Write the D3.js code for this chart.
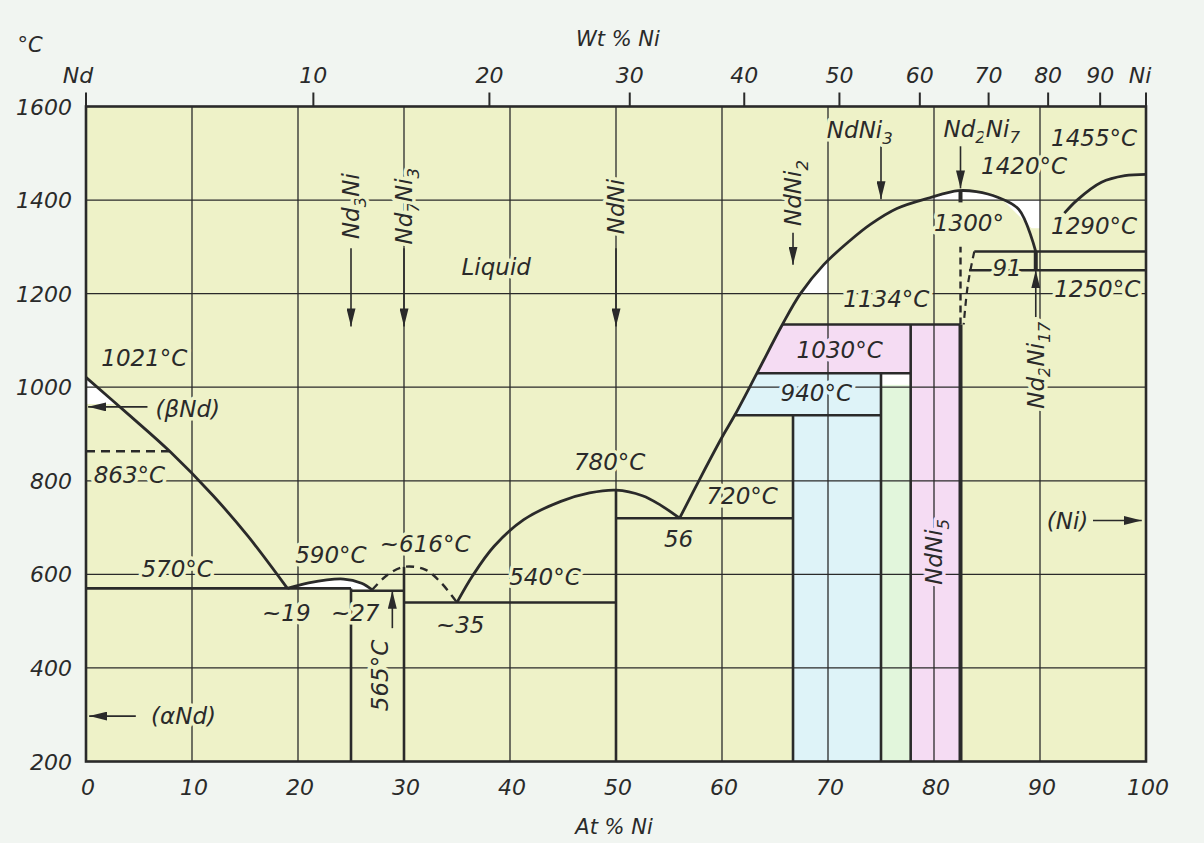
<!DOCTYPE html>
<html>
<head>
<meta charset="utf-8">
<script src="https://cdn.jsdelivr.net/npm/d3@7"></script>
<style>
  html, body { margin: 0; padding: 0; background: #f1f5f1; }
  svg { display: block; }
  text { font-family: "DejaVu Sans", sans-serif; font-style: italic; fill: #2a2a2a; }
</style>
</head>
<body>
<svg id="chart" width="1204" height="843"></svg>
<script>
// ---------------- DATA (at.% Ni, °C) ----------------
const atTicks = [0, 10, 20, 30, 40, 50, 60, 70, 80, 90, 100];
const tempTicks = [200, 400, 600, 800, 1000, 1200, 1400, 1600];
const wtTicks = [10, 20, 30, 40, 50, 60, 70, 80, 90];
const massNd = 144.24, massNi = 58.69;

// liquidus curves
const liqNd     = [[0,1021],[4,942],[7.9,863],[12,768],[15.3,681],[19,570]];
const liqNd3Ni  = [[19,570],[21,582],[24.3,590],[26,581],[27,567]];
const liqNd7Ni3 = [[27,567],[28.5,600],[30,616],[32,610],[33.5,582],[35,540]];   // dashed
const liqNdNi   = [[35,540],[36.5,598],[38.5,660],[41.3,717],[44.8,756],[47.5,774],[50,780],[52.5,768],[54.2,748],[56,720]];
const liqNdNi5  = [[56,720],[58,808],[60,893],[61.2,940],[63.3,1030],[65.7,1134],[67.4,1200],[69.6,1262],[72,1312],[74,1348],[76.5,1382],[79.6,1405],[82.3,1420],[84,1418],[86,1406],[88,1380],[89.6,1290]];
const liqNi     = [[92.3,1372],[93.5,1400],[95.8,1438],[98,1452],[100,1455]];
const dashed1300 = [[83.8,1290],[83.2,1220],[82.8,1134]];

// invariant (horizontal) lines
const isoTemp = [570, 565, 540, 720, 940, 1030, 1134, 1290, 1250];
const isoFrom = [0, 25, 30, 50, 61.2, 63.3, 65.7, 83.8, 83.3];
const isoTo   = [25, 30, 50, 66.7, 75, 77.8, 82.5, 100, 100];
const beta863 = [[0,863],[7.9,863]];

// compound (vertical) lines
const compX    = [25, 30, 50, 66.7, 75, 77.8, 82.5, 82.5, 89.6];
const compLow  = [200, 200, 200, 200, 200, 200, 200, 1395, 1250];
const compHigh = [570, 616, 780, 940, 1030, 1134, 1134, 1420, 1290];
const compHeavy = [false, false, false, false, false, false, true, true, true];
const dashedNdNi5 = [[82.5,1134],[82.5,1300]];

// coloured / white regions
const pinkRegion  = [[63.3,1030],[65.7,1134],[82.5,1134],[82.5,200],[77.8,200],[77.8,1030]];
const blueRegion  = [[61.2,940],[63.3,1030],[75,1030],[75,200],[66.7,200],[66.7,940]];
const greenRegion = [[75,200],[77.8,200],[77.8,1005],[75,1005]];
const whiteRegions = [
  [[0,1021],[2.9,964],[0,964]],
  [[19,570],[21,582],[24.3,590],[26,581],[27,567],[25,568]],
  [[67.4,1200],[69.6,1262],[70,1268],[70,1200]],
  [[86.5,1400],[89.2,1340],[90,1340],[90,1400]],
  [[75,1005],[77.8,1005],[77.8,1030],[75,1030]]
];
const whitePeak = [[79.5,1400],[79.6,1405],[82.3,1420],[84,1418],[86,1406],[86.5,1400]];

// arrows [fromAt, fromT, toAt, toT]
const arrows = [
  [5.8,958,0.2,958], [4.7,297,0.3,297], [95,715,99.6,715], [28.9,485,28.9,565],
  [25,1297,25,1130], [30,1297,30,1130], [50,1297,50,1130], [66.7,1330,66.7,1262],
  [75,1520,75,1402], [82.5,1515,82.5,1425], [89.6,1150,89.6,1250]
];

// labels [text, at%, °C]
const labels = [
  ["1021°C",5.5,1064], ["(βNd)",9.6,954], ["863°C",4.1,814], ["570°C",8.6,611],
  ["590°C",23.1,643], ["~616°C",32,665], ["~19",18.9,519], ["~27",25.4,518],
  ["~35",35.3,493], ["540°C",43.3,595], ["780°C",49.4,841], ["56",55.9,676],
  ["720°C",61.9,769], ["1030°C",71.1,1081], ["940°C",68.9,988], ["1134°C",75.5,1190],
  ["1300°",83.3,1351], ["1420°C",88.5,1474], ["1455°C",95.1,1533], ["1290°C",95.1,1345],
  ["1250°C",95.4,1210], ["91",86.9,1256], ["(Ni)",92.6,715], ["(αNd)",9.2,297],
  ["Liquid",38.7,1257], ["NdNi_{3}",73,1551], ["Nd_{2}Ni_{7}",84.5,1553]
];
const rotLabels = [
  ["Nd_{3}Ni",25,1387], ["Nd_{7}Ni_{3}",30,1387], ["NdNi",50,1386], ["NdNi_{2}",66.7,1415],
  ["NdNi_{5}",80,648], ["565°C",27.7,384], ["Nd_{2}Ni_{17}",89.6,1047]
];
const haloPink = ["1030°C", "NdNi_{5}"];
const haloBlue = ["940°C"];

// ---------------- DRAWING ----------------
const svg = d3.select("#chart");
const X = d3.scaleLinear().domain([0, 100]).range([86, 1146]);
const Y = d3.scaleLinear().domain([200, 1600]).range([761.5, 106.5]);
const INK = "#2a2a2a", PLOT = "#eef2c8", PINK = "#f5dcf3", BLUE = "#def3f8", GREEN = "#e2f6dc";
const FS = 23;

const defs = svg.append("defs");
defs.append("marker").attr("id", "ah").attr("viewBox", "0 0 20 10")
  .attr("refX", 20).attr("refY", 5).attr("markerWidth", 18).attr("markerHeight", 9)
  .attr("markerUnits", "userSpaceOnUse").attr("orient", "auto")
  .append("path").attr("d", "M0,0 L20,5 L0,10 Z").attr("fill", INK);

// plot background
svg.append("rect").attr("x", X(0)).attr("y", Y(1600))
  .attr("width", X(100) - X(0)).attr("height", Y(200) - Y(1600)).attr("fill", PLOT);

const poly = d3.line().x(d => X(d[0])).y(d => Y(d[1]));
const smooth = d3.line().x(d => X(d[0])).y(d => Y(d[1])).curve(d3.curveCatmullRom.alpha(0.5));

svg.append("path").attr("d", poly(pinkRegion) + "Z").attr("fill", PINK);
svg.append("path").attr("d", poly(blueRegion) + "Z").attr("fill", BLUE);
svg.append("path").attr("d", poly(greenRegion) + "Z").attr("fill", GREEN);
whiteRegions.forEach(r => svg.append("path").attr("d", poly(r) + "Z").attr("fill", "#ffffff"));
svg.append("path").attr("d", smooth(whitePeak) + "Z").attr("fill", "#ffffff");

// grid
const grid = svg.append("g").attr("stroke", INK).attr("stroke-width", 1.3);
atTicks.slice(1, -1).forEach(t => grid.append("line")
  .attr("x1", X(t)).attr("x2", X(t)).attr("y1", Y(1600)).attr("y2", Y(200)));
tempTicks.slice(1, -1).forEach(t => grid.append("line")
  .attr("x1", X(0)).attr("x2", X(100)).attr("y1", Y(t)).attr("y2", Y(t)));

// phase boundaries
const ph = svg.append("g").attr("stroke", INK).attr("fill", "none").attr("stroke-linecap", "butt");
isoTemp.forEach((t, i) => ph.append("line").attr("stroke-width", 2.6)
  .attr("x1", X(isoFrom[i])).attr("x2", X(isoTo[i])).attr("y1", Y(t)).attr("y2", Y(t)));
compX.forEach((x, i) => ph.append("line").attr("stroke-width", compHeavy[i] ? 4 : 2.6)
  .attr("x1", X(x)).attr("x2", X(x)).attr("y1", Y(compLow[i])).attr("y2", Y(compHigh[i])));
[liqNd, liqNd3Ni, liqNdNi, liqNdNi5, liqNi].forEach(c =>
  ph.append("path").attr("d", smooth(c)).attr("stroke-width", 2.8));
ph.append("path").attr("d", smooth(liqNd7Ni3)).attr("stroke-width", 2.4).attr("stroke-dasharray", "8,6");
ph.append("path").attr("d", poly(beta863)).attr("stroke-width", 2.4).attr("stroke-dasharray", "9,6");
ph.append("path").attr("d", poly(dashedNdNi5)).attr("stroke-width", 2.4).attr("stroke-dasharray", "7,5");
ph.append("path").attr("d", smooth(dashed1300)).attr("stroke-width", 2.2).attr("stroke-dasharray", "7,5");

// frame
svg.append("rect").attr("x", X(0)).attr("y", Y(1600))
  .attr("width", X(100) - X(0)).attr("height", Y(200) - Y(1600))
  .attr("fill", "none").attr("stroke", INK).attr("stroke-width", 2.6);

// arrows
arrows.forEach(a => svg.append("line")
  .attr("x1", X(a[0])).attr("y1", Y(a[1])).attr("x2", X(a[2])).attr("y2", Y(a[3]))
  .attr("stroke", INK).attr("stroke-width", 1.6).attr("marker-end", "url(#ah)"));

// rich text helper: "_{..}" -> subscript
function rich(textSel, str, fs) {
  const parts = str.split(/(_\{[^}]*\})/).filter(p => p.length);
  let sub = false;
  parts.forEach(p => {
    if (p.startsWith("_{")) {
      textSel.append("tspan").attr("font-size", fs * 0.72).attr("dy", fs * 0.28).text(p.slice(2, -1));
      sub = true;
    } else {
      const t = textSel.append("tspan").text(p);
      if (sub) { t.attr("dy", -fs * 0.28); sub = false; }
    }
  });
}
function halo(str) {
  return haloPink.includes(str) ? PINK : haloBlue.includes(str) ? BLUE : PLOT;
}

const lab = svg.append("g");
labels.forEach(l => {
  const t = lab.append("text").attr("x", X(l[1])).attr("y", Y(l[2]) + FS * 0.36)
    .attr("text-anchor", "middle").attr("font-size", FS)
    .attr("stroke", halo(l[0])).attr("stroke-width", 7).attr("stroke-linejoin", "round")
    .attr("paint-order", "stroke");
  rich(t, l[0], FS);
});
rotLabels.forEach(l => {
  const t = lab.append("text")
    .attr("transform", `translate(${X(l[1])},${Y(l[2])}) rotate(-90)`)
    .attr("x", 0).attr("y", FS * 0.36)
    .attr("text-anchor", "middle").attr("font-size", FS)
    .attr("stroke", halo(l[0])).attr("stroke-width", 7).attr("stroke-linejoin", "round")
    .attr("paint-order", "stroke");
  rich(t, l[0], FS);
});

// axes: left (°C)
tempTicks.forEach(t => svg.append("text").attr("x", 72).attr("y", Y(t) + 8)
  .attr("text-anchor", "end").attr("font-size", 22).text(t));
svg.append("text").attr("x", 30).attr("y", 52).attr("text-anchor", "middle").attr("font-size", 21).text("°C");

// bottom (at.%)
atTicks.forEach(t => svg.append("text").attr("x", X(t) + 2).attr("y", 795)
  .attr("text-anchor", "middle").attr("font-size", 22).text(t));
svg.append("text").attr("x", 614).attr("y", 834).attr("text-anchor", "middle").attr("font-size", 21).text("At % Ni");

// top (wt.%)
const atFromWt = w => 100 * (w / massNi) / (w / massNi + (100 - w) / massNd);
const topTicks = [0].concat(wtTicks, [100]);
topTicks.forEach(w => svg.append("line")
  .attr("x1", X(atFromWt(w))).attr("x2", X(atFromWt(w)))
  .attr("y1", Y(1600)).attr("y2", Y(1600) - 14)
  .attr("stroke", INK).attr("stroke-width", 2));
wtTicks.forEach(w => svg.append("text").attr("x", X(atFromWt(w))).attr("y", 83)
  .attr("text-anchor", "middle").attr("font-size", 22).text(w));
svg.append("text").attr("x", X(0) - 8).attr("y", 83).attr("text-anchor", "middle").attr("font-size", 22).text("Nd");
svg.append("text").attr("x", X(100) - 6).attr("y", 83).attr("text-anchor", "middle").attr("font-size", 22).text("Ni");
svg.append("text").attr("x", 618).attr("y", 46).attr("text-anchor", "middle").attr("font-size", 21).text("Wt % Ni");
</script>
</body>
</html>
